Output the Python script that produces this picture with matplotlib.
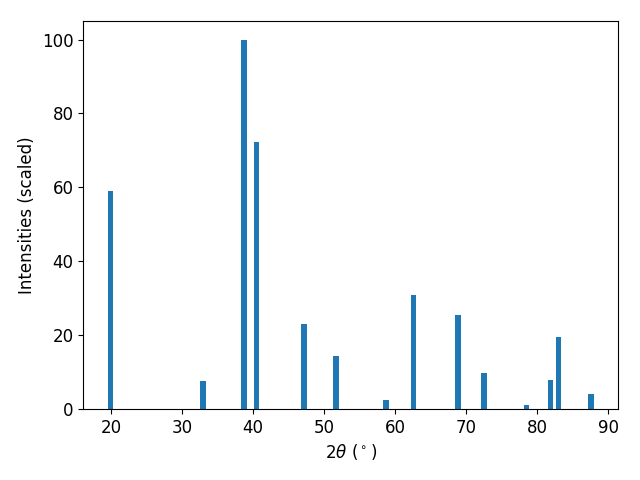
import numpy as np
import matplotlib
matplotlib.use("Agg")
import matplotlib.pyplot as plt

# peak positions (2theta, degrees) and scaled intensities
two_theta = [19.9, 32.9, 38.75, 40.5, 47.15, 51.7, 58.7, 62.6, 68.9, 72.55, 78.5, 81.9, 83.0, 87.6]
intensity = [59.1, 7.6, 100.0, 72.4, 23.0, 14.4, 2.4, 30.9, 25.4, 9.7, 1.1, 7.9, 19.5, 4.1]

fig, ax = plt.subplots(figsize=(6.4, 4.8), dpi=100)
ax.bar(two_theta, intensity, width=0.8, color='tab:blue')

ax.set_xlabel(r'2$\theta$ ($^\circ$)', fontsize=12)
ax.set_ylabel('Intensities (scaled)', fontsize=12)
ax.tick_params(axis='both', labelsize=12)

fig.subplots_adjust(left=0.13, right=0.966, top=0.956, bottom=0.148)
plt.savefig('out.png')
